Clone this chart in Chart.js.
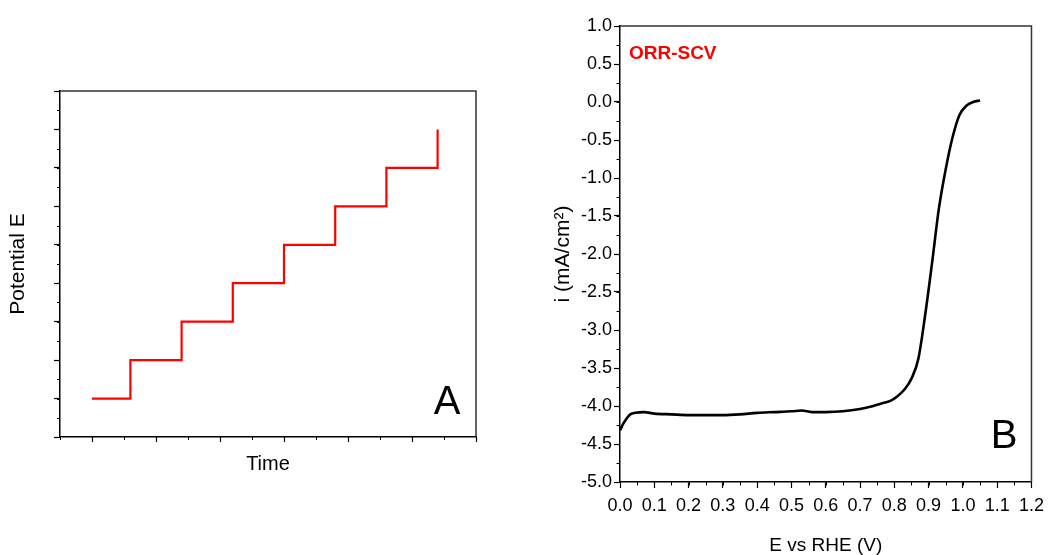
<!DOCTYPE html>
<html>
<head>
<meta charset="utf-8">
<title>Potential steps and ORR-SCV</title>
<script src="https://cdn.jsdelivr.net/npm/chart.js@4.4.1/dist/chart.umd.min.js"></script>
<style>
  body { margin: 0; background: #fff; }
  #wrap { position: relative; width: 1051px; height: 555px; }
  canvas { position: absolute; top: 0; }
  #chartA { left: 0; }
  #chartB { left: 520px; }
</style>
</head>
<body>
<div id="wrap">
  <canvas id="chartA" width="520" height="555"></canvas>
  <canvas id="chartB" width="531" height="555"></canvas>
</div>
<script>
// panel A - staircase potential program (arbitrary units)
const stepTimes = [0, 0.6, 1.4, 2.2, 3.0, 3.8, 4.6, 5.4];
const stepLevels = [1, 2, 3, 4, 5, 6, 7, 8];

// panel B - ORR staircase voltammogram
const potential = [0.0, 0.01, 0.02, 0.03, 0.045, 0.07, 0.1, 0.15, 0.2, 0.25, 0.3, 0.35, 0.4, 0.45, 0.5, 0.53, 0.56, 0.6, 0.65, 0.7,
                   0.73, 0.76, 0.79, 0.81, 0.83, 0.85, 0.87, 0.89, 0.91, 0.93, 0.95, 0.97, 0.99, 1.01, 1.03, 1.05];
const current = [-4.32, -4.23, -4.16, -4.11, -4.09, -4.08, -4.10, -4.11, -4.12, -4.12, -4.12, -4.11, -4.09, -4.08, -4.07, -4.06, -4.08, -4.08, -4.07, -4.04,
                 -4.01, -3.97, -3.93, -3.87, -3.78, -3.64, -3.38, -2.80, -2.12, -1.40, -0.88, -0.46, -0.17, -0.05, 0.0, 0.02];

const NARROW = "'Liberation Sans Narrow', 'Liberation Sans', Arial, sans-serif";
Chart.defaults.font.family = "'Liberation Sans', Arial, sans-serif";
Chart.defaults.color = "#000";

// top and right edges of the plot box
const frame = {
    id: "frame",
    afterDraw(chart) {
        const { ctx, chartArea: a } = chart;
        ctx.save();
        ctx.strokeStyle = "#333";
        ctx.lineWidth = 1.5;
        ctx.beginPath();
        ctx.moveTo(a.left, a.top);
        ctx.lineTo(a.right, a.top);
        ctx.lineTo(a.right, a.bottom);
        ctx.stroke();
        ctx.restore();
    }
};

// short minor ticks between the major ones
const minorTicks = {
    id: "minorTicks",
    afterDraw(chart, args, opts) {
        const ctx = chart.ctx;
        ctx.save();
        ctx.strokeStyle = "#000";
        ctx.lineWidth = 1;
        ["x", "y"].forEach(id => {
            const s = chart.scales[id];
            const step = opts[id];
            if (!step) return;
            for (let v = s.min; v <= s.max + 1e-9; v += step) {
                const p = Math.round(s.getPixelForValue(v)) + 0.5;
                ctx.beginPath();
                if (s.isHorizontal()) {
                    ctx.moveTo(p, s.top);
                    ctx.lineTo(p, s.top + opts.len);
                } else {
                    ctx.moveTo(s.right, p);
                    ctx.lineTo(s.right - opts.len, p);
                }
                ctx.stroke();
            }
        });
        ctx.restore();
    }
};

// text placed in data coordinates
const labels = {
    id: "labels",
    afterDraw(chart, args, opts) {
        const ctx = chart.ctx;
        (opts.items || []).forEach(t => {
            ctx.save();
            ctx.font = t.font;
            ctx.fillStyle = t.color;
            ctx.textAlign = t.align || "center";
            ctx.textBaseline = "middle";
            ctx.fillText(t.text, chart.scales.x.getPixelForValue(t.x), chart.scales.y.getPixelForValue(t.y));
            ctx.restore();
        });
    }
};

const tickGrid = len => ({ drawOnChartArea: false, drawTicks: true, tickLength: len, tickColor: "#000", tickWidth: 1.2 });
const axisBorder = { display: true, color: "#000", width: 1.5 };

new Chart(document.getElementById("chartA"), {
    type: "line",
    data: {
        datasets: [{
            data: stepTimes.map((t, i) => ({ x: t, y: stepLevels[i] })),
            borderColor: "#ff0000",
            borderWidth: 2.2,
            stepped: true,
            pointRadius: 0,
            fill: false
        }]
    },
    options: {
        responsive: false,
        animation: false,
        layout: { padding: { top: 91, right: 44, bottom: 0, left: 0 } },
        plugins: {
            legend: { display: false },
            tooltip: { enabled: false },
            minorTicks: { x: 0.5, y: 0.5, len: 3 },
            labels: { items: [{ text: "A", x: 5.55, y: 0.88, font: "40px 'Liberation Sans', Arial", color: "#000" }] }
        },
        scales: {
            x: {
                type: "linear", min: -0.5, max: 6,
                ticks: { display: false, stepSize: 1, includeBounds: false },
                grid: tickGrid(5),
                border: axisBorder,
                title: { display: true, text: "Time", font: { size: 20 }, padding: { top: 0, bottom: 79 } },
                afterFit(s) { s.height = 118; }
            },
            y: {
                type: "linear", min: 0, max: 9,
                ticks: { display: false, stepSize: 1 },
                grid: tickGrid(6),
                border: axisBorder,
                title: { display: true, text: "Potential E", font: { size: 21 }, padding: { top: 6, bottom: 0 } },
                afterFit(s) { s.width = 60; }
            }
        }
    },
    plugins: [frame, minorTicks, labels]
});

new Chart(document.getElementById("chartB"), {
    type: "line",
    data: {
        datasets: [{
            data: potential.map((e, i) => ({ x: e, y: current[i] })),
            borderColor: "#000",
            borderWidth: 2.6,
            cubicInterpolationMode: "monotone",
            pointRadius: 0,
            fill: false
        }]
    },
    options: {
        responsive: false,
        animation: false,
        layout: { padding: { top: 26, right: 14, bottom: 0, left: 0 } },
        plugins: {
            legend: { display: false },
            tooltip: { enabled: false },
            minorTicks: { x: 0.05, y: 0.25, len: 3.5 },
            labels: {
                items: [
                    { text: "ORR-SCV", x: 0.026, y: 0.63, align: "left", font: "bold 19px " + NARROW, color: "#ff0000" },
                    { text: "B", x: 1.12, y: -4.41, font: "40px " + NARROW, color: "#000" }
                ]
            }
        },
        scales: {
            x: {
                type: "linear", min: 0, max: 1.2,
                ticks: { stepSize: 0.1, autoSkip: false, maxRotation: 0, padding: 7,
                         font: { family: NARROW, size: 18 }, callback: v => v.toFixed(1) },
                grid: tickGrid(6),
                border: axisBorder,
                title: { display: true, text: "E vs RHE (V)", font: { family: NARROW, size: 19, lineHeight: 1 }, padding: { top: 0, bottom: 0 } },
                afterFit(s) { s.height = 73; }
            },
            y: {
                type: "linear", min: -5, max: 1,
                ticks: { stepSize: 0.5, padding: 2, font: { family: NARROW, size: 18 }, callback: v => v.toFixed(1) },
                grid: tickGrid(6),
                border: axisBorder,
                title: { display: true, text: "i (mA/cm²)", font: { size: 21 }, padding: { top: 31, bottom: 0 } },
                afterFit(s) { s.width = 100; }
            }
        }
    },
    plugins: [frame, minorTicks, labels]
});
</script>
</body>
</html>
